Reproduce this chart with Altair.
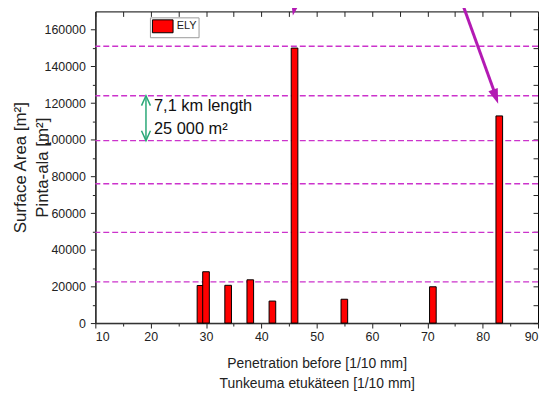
import altair as alt
import pandas as pd

# ---- data ----
positions = [29, 30, 34, 38, 42, 46, 55, 71, 83]
areas = [20500, 28000, 20600, 23600, 12000, 150000, 13000, 19800, 113000]
series_name = "ELY"

guide_levels = [22500, 49500, 76000, 99500, 124000, 151000]

x_ticks = [10, 15, 20, 25, 30, 35, 40, 45, 50, 55, 60, 65, 70, 75, 80, 85, 90]
y_ticks = [0, 10000, 20000, 30000, 40000, 50000, 60000, 70000, 80000,
           90000, 100000, 110000, 120000, 130000, 140000, 150000, 160000]

span_x = [19.15]
span_top = [124000]
span_bottom = [99500]
span_head_y = [124000, 99500]
span_head_angle = [0, 180]
span_labels = ["7,1 km length", "25 000 m²"]
span_label_x = [20.6, 20.6]
span_label_y = [118600, 106000]

pointer_x0 = [46.2, 76.2]
pointer_y0 = [175400, 175400]
pointer_x1 = [45.9, 82.3]
pointer_y1 = [170500, 124500]
pointer_tip_x = [45.7, 82.8]
pointer_tip_y = [167800, 119700]
pointer_angle = [12, 340]

x_title = ["Penetration before [1/10 mm]", "Tunkeuma etukäteen [1/10 mm]"]
y_title = ["Surface Area [m²]", "Pinta-ala [m²]"]

# ---- tables ----
bar_df = pd.DataFrame({"pos": positions, "area": areas,
                       "series": [series_name] * len(positions)})
guide_df = pd.DataFrame({"level": guide_levels})
span_df = pd.DataFrame({"x": span_x, "top": span_top, "bottom": span_bottom})
span_head_df = pd.DataFrame({"x": span_x * 2, "y": span_head_y, "angle": span_head_angle})
span_text_df = pd.DataFrame({"x": span_label_x, "y": span_label_y, "t": span_labels})
pointer_df = pd.DataFrame({"x0": pointer_x0, "y0": pointer_y0,
                           "x1": pointer_x1, "y1": pointer_y1})
pointer_head_df = pd.DataFrame({"x": pointer_tip_x, "y": pointer_tip_y,
                                "angle": pointer_angle})

FONT = "Liberation Sans"
INK = "#222222"
MAGENTA = "#b31ab3"
GUIDE = "#cc33cc"
GREEN = "#2aa878"

x_scale = alt.Scale(domain=[10, 90], nice=False, zero=False, padding=0)
y_scale = alt.Scale(domain=[0, 170000], nice=False, zero=False, padding=0)

bottom_axis = alt.Axis(
    orient="bottom", values=x_ticks, grid=False,
    labelExpr="datum.value % 10 === 0 ? datum.label : ''",
    tickSize={"condition": {"test": "datum.value % 10 === 0", "value": 5}, "value": 3},
    labelFont=FONT, labelFontSize=12.5, labelColor=INK, labelPadding=3,
    tickColor=INK, domainColor="#333333", domainWidth=1.5,
    title=x_title, titleFont=FONT, titleFontSize=14, titleFontWeight="normal",
    titleColor=INK, titleLineHeight=19.5, titleX=223, titleY=41,
    titleBaseline="middle", titleAlign="center", titleAnchor="middle",
)
left_axis = alt.Axis(
    orient="left", values=y_ticks, grid=False, format="d",
    labelExpr="datum.value % 20000 === 0 ? datum.label : ''",
    tickSize={"condition": {"test": "datum.value % 20000 === 0", "value": 5}, "value": 3},
    labelFont=FONT, labelFontSize=12.5, labelColor=INK, labelPadding=5,
    tickColor=INK, domainColor="#333333", domainWidth=1.5,
    title=y_title, titleFont=FONT, titleFontSize=17, titleFontWeight="normal",
    titleColor=INK, titleLineHeight=22, titleX=-75.3, titleY=157, titleAngle=270,
    titleBaseline="middle", titleAlign="center",
)
top_axis = alt.Axis(orient="top", values=x_ticks, offset=-5, tickSize=5, ticks=True,
                    labels=False, domain=False, grid=False, tickColor=INK,
                    tickWidth=1, tickOpacity=1, title=None)
right_axis = alt.Axis(orient="right", values=y_ticks, offset=-5, tickSize=5, ticks=True,
                      labels=False, domain=False, grid=False, tickColor=INK,
                      tickWidth=1, tickOpacity=1, title=None)

guides = alt.Chart(guide_df).mark_rule(
    color=GUIDE, strokeWidth=1.3, strokeDash=[6, 3]
).encode(y=alt.Y("level:Q", scale=y_scale, axis=None))

bars = alt.Chart(bar_df).transform_calculate(
    left="datum.pos - 0.6", right="datum.pos + 0.6"
).mark_bar(stroke="black", strokeWidth=1, opacity=1).encode(
    x=alt.X("left:Q", scale=x_scale, axis=bottom_axis),
    x2="right:Q",
    y=alt.Y("area:Q", scale=y_scale, axis=left_axis),
    y2=alt.datum(0),
    color=alt.Color("series:N", scale=alt.Scale(range=["#ff0000"]),
                    legend=alt.Legend(
                        title=None, orient="none", legendX=55, legendY=6,
                        strokeColor="#9a9a9a", fillColor="white", padding=2,
                        symbolType="M-1,-1H2.2V1H-1Z", symbolSize=169,
                        symbolStrokeColor="black", symbolStrokeWidth=1,
                        symbolOpacity=1,
                        labelFont=FONT, labelFontSize=11, labelColor=INK,
                        labelOffset=11)),
)

span_rule = alt.Chart(span_df).mark_rule(color=GREEN, strokeWidth=1.5).encode(
    x=alt.X("x:Q", scale=x_scale, axis=top_axis),
    y=alt.Y("top:Q", scale=y_scale, axis=right_axis),
    y2="bottom:Q",
)
span_heads = alt.Chart(span_head_df).mark_point(
    shape="M-0.45,1L0,0L0.45,1", filled=False, stroke=GREEN, strokeWidth=1.5,
    size=400, opacity=1
).encode(
    x=alt.X("x:Q", scale=x_scale, axis=None),
    y=alt.Y("y:Q", scale=y_scale, axis=None),
    angle=alt.Angle("angle:Q", scale=None),
)
span_text = alt.Chart(span_text_df).mark_text(
    align="left", baseline="middle", font=FONT, fontSize=16.5, color="#111111"
).encode(
    x=alt.X("x:Q", scale=x_scale, axis=None),
    y=alt.Y("y:Q", scale=y_scale, axis=None),
    text="t:N",
)

pointer_shafts = alt.Chart(pointer_df).mark_rule(color=MAGENTA, strokeWidth=3).encode(
    x=alt.X("x0:Q", scale=x_scale, axis=None),
    y=alt.Y("y0:Q", scale=y_scale, axis=None),
    x2="x1:Q", y2="y1:Q",
)
pointer_heads = alt.Chart(pointer_head_df).mark_point(
    shape="M0,0L-0.5,-1.5L0.5,-1.5Z", filled=True, color=MAGENTA,
    size=400, opacity=1
).encode(
    x=alt.X("x:Q", scale=x_scale, axis=None),
    y=alt.Y("y:Q", scale=y_scale, axis=None),
    angle=alt.Angle("angle:Q", scale=None),
)

chart = alt.layer(
    guides, bars, span_rule, span_heads, span_text, pointer_shafts, pointer_heads
).resolve_axis(x="independent", y="independent").properties(
    width=446, height=314,
    autosize=alt.AutoSizeParams(type="none"),
    padding={"left": 88, "top": 2, "right": 1, "bottom": 67},
    background="white",
).configure_view(stroke="black", strokeWidth=1)

chart.save("out.html", embed_options={"renderer": "svg", "actions": False})
